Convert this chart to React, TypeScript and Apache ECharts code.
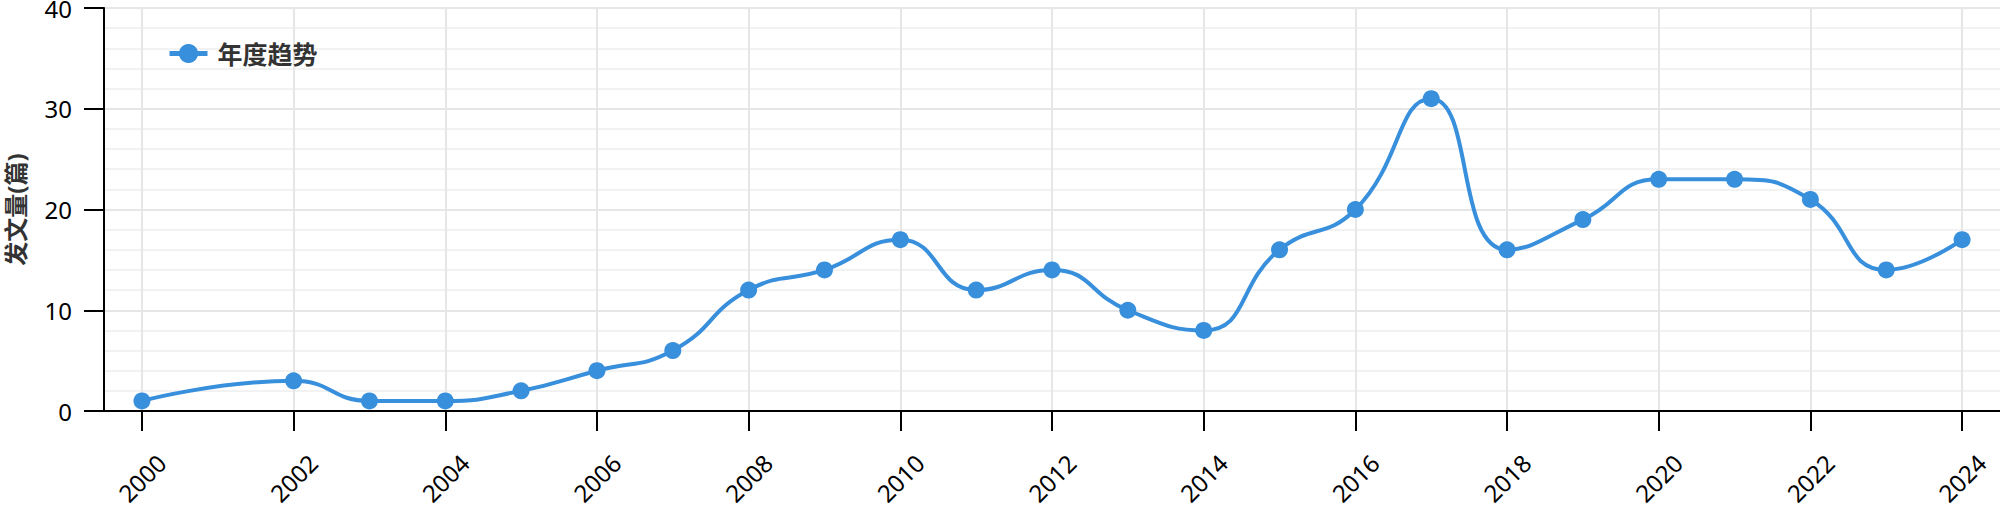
import React, { useEffect, useRef } from "react";
import * as echarts from "echarts";

const years = [2000, 2002, 2003, 2004, 2005, 2006, 2007, 2008, 2009, 2010, 2011, 2012, 2013, 2014, 2015, 2016, 2017, 2018, 2019, 2020, 2021, 2022, 2023, 2024];
const counts = [1, 3, 1, 1, 2, 4, 6, 12, 14, 17, 12, 14, 10, 8, 16, 20, 31, 16, 19, 23, 23, 21, 14, 17];
const seriesName = "年度趋势";
const yAxisName = "发文量(篇)";
const yMin = 0;
const yMax = 40;
const yInterval = 10;
const xMin = 2000;
const xMax = 2024;
const xInterval = 2;

const FONT = "'Noto Sans', 'Noto Sans CJK SC', sans-serif";
const BLUE = "#388fdc";

export default function App() {
  const ref = useRef<HTMLDivElement>(null);
  useEffect(() => {
    if (!ref.current) return;
    const chart = echarts.init(ref.current, undefined, { renderer: "svg" });
    const data = years.map((y, i) => [y, counts[i]]);
    chart.setOption({
      animation: false,
      textStyle: { fontFamily: FONT },
      legend: {
        left: 162,
        top: 36,
        itemWidth: 38,
        itemHeight: 24,
        lineStyle: { width: 5 },
        textStyle: { fontSize: 25, fontWeight: "bold", color: "#333", fontFamily: FONT, padding: [0, 0, 0, 5] },
        data: [seriesName],
      },
      grid: [
        { left: 104, right: 0, top: 8, bottom: 100, outerBoundsMode: "none", containLabel: false },
        { left: 142, right: 38, top: 8, bottom: 100, outerBoundsMode: "none", containLabel: false },
      ],
      xAxis: [
        {
          type: "value",
          gridIndex: 0,
          min: xMin - 0.5,
          max: xMax + 0.5,
          axisLine: { show: true, lineStyle: { color: "#000", width: 2 } },
          axisTick: { show: false },
          axisLabel: { show: false },
          splitLine: { show: false },
        },
        {
          type: "value",
          gridIndex: 1,
          min: xMin,
          max: xMax,
          interval: xInterval,
          axisLine: { show: false },
          axisTick: { show: true, length: 20, lineStyle: { color: "#000", width: 2 } },
          axisLabel: {
            rotate: 45,
            align: "center",
            verticalAlign: "middle",
            margin: 67,
            fontSize: 24,
            color: "#000",
            fontFamily: FONT,
            formatter: (v: number) => String(v),
          },
          splitLine: { show: true, lineStyle: { color: "#e6e6e6", width: 2 } },
        },
      ],
      yAxis: [
        {
          type: "value",
          gridIndex: 0,
          min: yMin,
          max: yMax,
          interval: yInterval,
          name: yAxisName,
          nameLocation: "middle",
          nameGap: 77,
          nameTextStyle: { fontSize: 24, fontWeight: "bold", color: "#333", fontFamily: FONT },
          axisLine: { show: true, lineStyle: { color: "#000", width: 2 } },
          axisTick: { show: true, length: 20, lineStyle: { color: "#000", width: 2 } },
          axisLabel: { margin: 32, fontSize: 24, color: "#000", fontFamily: FONT },
          splitLine: { show: true, lineStyle: { color: "#e6e6e6", width: 2 } },
          minorTick: { show: false, splitNumber: 5 },
          minorSplitLine: { show: true, lineStyle: { color: "#f2f2f2", width: 2 } },
        },
        {
          type: "value",
          gridIndex: 1,
          min: yMin,
          max: yMax,
          show: false,
        },
      ],
      series: [
        {
          name: seriesName,
          type: "line",
          xAxisIndex: 0,
          yAxisIndex: 0,
          data,
          smooth: true,
          symbol: "circle",
          symbolSize: 17,
          lineStyle: { color: BLUE, width: 4 },
          itemStyle: { color: BLUE },
          z: 5,
        },
      ],
    });
    return () => chart.dispose();
  }, []);
  return <div ref={ref} style={{ position: "absolute", left: 0, top: 0, width: 2000, height: 511 }} />;
}
